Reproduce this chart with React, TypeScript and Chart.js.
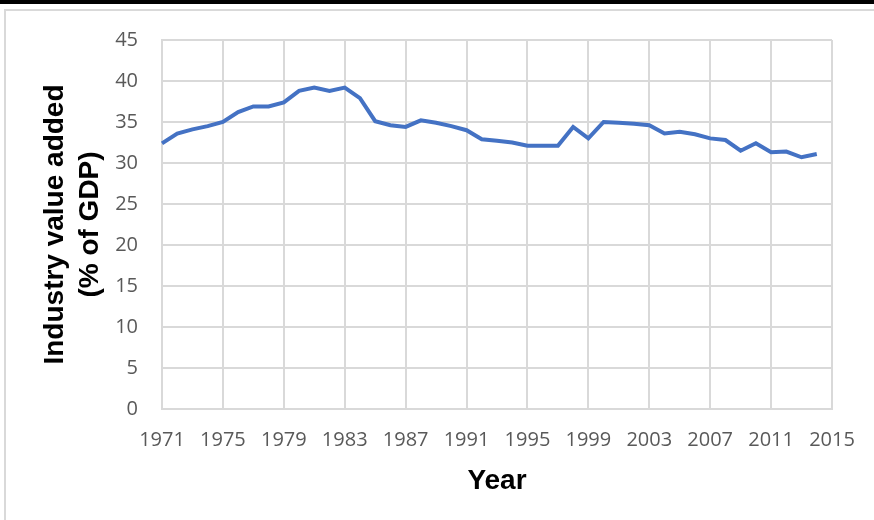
import React, { useEffect, useRef } from "react";
import { Chart, registerables } from "chart.js";

Chart.register(...registerables);

const years: string[] = [
  "1971", "1972", "1973", "1974", "1975", "1976", "1977", "1978", "1979", "1980",
  "1981", "1982", "1983", "1984", "1985", "1986", "1987", "1988", "1989", "1990",
  "1991", "1992", "1993", "1994", "1995", "1996", "1997", "1998", "1999", "2000",
  "2001", "2002", "2003", "2004", "2005", "2006", "2007", "2008", "2009", "2010",
  "2011", "2012", "2013", "2014", "2015",
];

const industryValueAdded: (number | null)[] = [
  32.4, 33.6, 34.1, 34.5, 35.0, 36.2, 36.9, 36.9, 37.4, 38.8,
  39.2, 38.8, 39.2, 37.9, 35.1, 34.6, 34.4, 35.2, 34.9, 34.5,
  34.0, 32.9, 32.7, 32.5, 32.1, 32.1, 32.1, 34.4, 33.0, 35.0,
  34.9, 34.8, 34.6, 33.6, 33.8, 33.5, 33.0, 32.8, 31.5, 32.4,
  31.3, 31.4, 30.7, 31.1, null,
];

const yMin = 0;
const yMax = 45;
const yStep = 5;
const xLabelEvery = 4;

const yTitle = ["Industry value added", "(% of GDP)"];
const xTitle = "Year";

export default function App() {
  const canvasRef = useRef<HTMLCanvasElement | null>(null);

  useEffect(() => {
    const canvas = canvasRef.current;
    if (!canvas) return;
    const chart = new Chart(canvas, {
      type: "line",
      data: {
        labels: years,
        datasets: [
          {
            data: industryValueAdded,
            borderColor: "#4472C4",
            borderWidth: 4,
            pointRadius: 0,
            tension: 0,
            fill: false,
            spanGaps: false,
          },
        ],
      },
      options: {
        responsive: false,
        animation: false,
        events: [],
        layout: { padding: { left: 0, right: 42, top: 40, bottom: 0 } },
        plugins: {
          legend: { display: false },
          tooltip: { enabled: false },
        },
        scales: {
          x: {
            type: "category",
            offset: false,
            afterBuildTicks: (scale: any) => {
              scale.ticks = scale.ticks.filter((_t: any, i: number) => i % xLabelEvery === 0);
            },
            afterFit: (scale: any) => {
              scale.height = 111;
            },
            grid: {
              color: "#d9d9d9",
              lineWidth: 2,
              drawTicks: false,
            },
            border: { color: "#d9d9d9", width: 2 },
            ticks: {
              autoSkip: false,
              maxRotation: 0,
              minRotation: 0,
              padding: 19,
              color: "#595959",
              font: { family: "'Open Sans'", size: 20 },
            },
            title: {
              display: true,
              text: xTitle,
              color: "#000000",
              font: { family: "'Liberation Sans', Arial", size: 28, weight: "bold", lineHeight: 1.2 },
              padding: { top: 0, bottom: 22 },
            },
          },
          y: {
            min: yMin,
            max: yMax,
            afterFit: (scale: any) => {
              scale.width = 162;
            },
            grid: {
              color: "#d9d9d9",
              lineWidth: 2,
              drawTicks: false,
            },
            border: { color: "#d9d9d9", width: 2 },
            ticks: {
              stepSize: yStep,
              padding: 24,
              color: "#595959",
              font: { family: "'Open Sans'", size: 20 },
            },
            title: {
              display: true,
              text: yTitle,
              color: "#000000",
              font: { family: "'Liberation Sans', Arial", size: 28, weight: "bold", lineHeight: 1.25 },
              padding: { top: 38, bottom: 0 },
            },
          },
        },
      },
    });
    return () => chart.destroy();
  }, []);

  return (
    <div
      style={{
        position: "absolute",
        left: 0,
        top: 0,
        width: 874,
        height: 520,
        overflow: "hidden",
        background: "#ffffff",
      }}
    >
      <div
        style={{
          position: "absolute",
          left: 4,
          top: 9,
          width: 900,
          height: 600,
          border: "2px solid #d9d9d9",
        }}
      />
      <div
        style={{
          position: "absolute",
          left: 0,
          top: 0,
          width: 874,
          height: 4,
          background: "#000000",
        }}
      />
      <canvas
        ref={canvasRef}
        width={874}
        height={520}
        style={{ position: "absolute", left: 0, top: 0, width: 874, height: 520 }}
      />
    </div>
  );
}
